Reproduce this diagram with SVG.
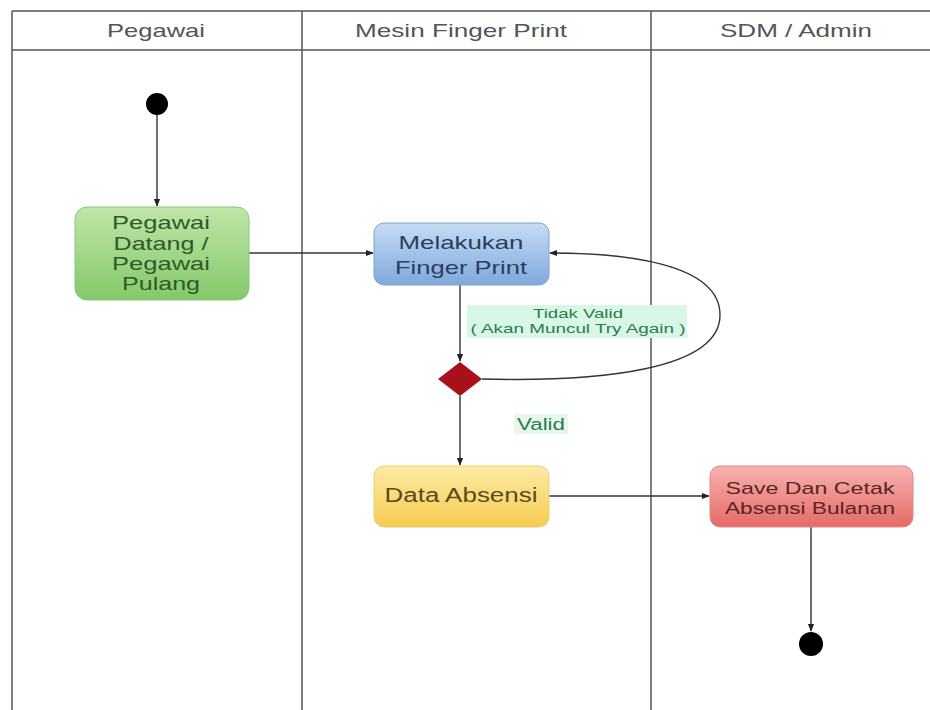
<svg xmlns="http://www.w3.org/2000/svg" width="930" height="710" viewBox="0 0 930 710">
<style>
.lane{fill:none;stroke:#555;stroke-width:1.5}
.hdr{font-family:"Liberation Sans",Arial,sans-serif;font-size:19px;fill:#555;text-anchor:middle}
.t{font-family:"Liberation Sans",Arial,sans-serif;font-size:19px;text-anchor:middle}
.s{font-family:"Liberation Sans",Arial,sans-serif;font-size:13px;text-anchor:middle;fill:#2d7a4d}
.c{fill:none;stroke:#333;stroke-width:1.4}
</style>
<defs>
<marker id="ah" viewBox="0 0 10 10" refX="9" refY="5" markerWidth="8" markerHeight="8" orient="auto" markerUnits="userSpaceOnUse">
<path d="M0,1 L10,5 L0,9 z" fill="#222"/>
</marker>
<linearGradient id="gG" x1="0" y1="0" x2="0" y2="1"><stop offset="0" stop-color="#bfe6a8"/><stop offset="1" stop-color="#84c86a"/></linearGradient>
<linearGradient id="gB" x1="0" y1="0" x2="0" y2="1"><stop offset="0" stop-color="#c6dcf5"/><stop offset="1" stop-color="#7fa8dc"/></linearGradient>
<linearGradient id="gY" x1="0" y1="0" x2="0" y2="1"><stop offset="0" stop-color="#fdeaa6"/><stop offset="1" stop-color="#f6cc4f"/></linearGradient>
<linearGradient id="gR" x1="0" y1="0" x2="0" y2="1"><stop offset="0" stop-color="#f6b3b0"/><stop offset="1" stop-color="#e56a66"/></linearGradient>
</defs>
<rect width="930" height="710" fill="#fff"/>
<g id="lanes">
<line class="lane" x1="12" y1="11" x2="930" y2="11"/>
<line class="lane" x1="12" y1="50" x2="930" y2="50"/>
<line class="lane" x1="12" y1="11" x2="12" y2="710"/>
<line class="lane" x1="302" y1="11" x2="302" y2="710"/>
<line class="lane" x1="651" y1="11" x2="651" y2="710"/>
<text class="hdr" x="156" y="37" textLength="98" lengthAdjust="spacingAndGlyphs">Pegawai</text>
<text class="hdr" x="461" y="37" textLength="212" lengthAdjust="spacingAndGlyphs">Mesin Finger Print</text>
<text class="hdr" x="796" y="37" textLength="152" lengthAdjust="spacingAndGlyphs">SDM / Admin</text>
</g>
<g id="connectors">
<line class="c" x1="157" y1="115" x2="157" y2="206" marker-end="url(#ah)"/>
<line class="c" x1="249" y1="253" x2="373" y2="253" marker-end="url(#ah)"/>
<line class="c" x1="460" y1="285" x2="460" y2="361" marker-end="url(#ah)"/>
<path class="c" d="M482,379 C600,382 720,370 720,315 C720,262 620,253 550,253" marker-end="url(#ah)"/>
<line class="c" x1="460" y1="396" x2="460" y2="465" marker-end="url(#ah)"/>
<line class="c" x1="549" y1="496" x2="709" y2="496" marker-end="url(#ah)"/>
<line class="c" x1="811" y1="527" x2="811" y2="631" marker-end="url(#ah)"/>
<rect x="467" y="305" width="220" height="33" fill="#d8f7e6"/>
<text class="s" x="578" y="318" textLength="90" lengthAdjust="spacingAndGlyphs">Tidak Valid</text>
<text class="s" x="578" y="333" textLength="215" lengthAdjust="spacingAndGlyphs">( Akan Muncul Try Again )</text>
<rect x="514" y="414" width="54" height="20" fill="#e6f8ee"/>
<text class="s" x="541" y="430" style="font-size:16px" textLength="48" lengthAdjust="spacingAndGlyphs">Valid</text>
</g>
<g id="start"><circle cx="157" cy="104" r="11" fill="#000"/></g>
<g id="pegawai-datang">
<rect x="75" y="207" width="174" height="93" rx="12" fill="url(#gG)" stroke="#8cc67a"/>
<text class="t" x="161" y="229" fill="#2f5a2a" textLength="98" lengthAdjust="spacingAndGlyphs">Pegawai</text>
<text class="t" x="161" y="250" fill="#2f5a2a" textLength="95" lengthAdjust="spacingAndGlyphs">Datang /</text>
<text class="t" x="161" y="270" fill="#2f5a2a" textLength="98" lengthAdjust="spacingAndGlyphs">Pegawai</text>
<text class="t" x="161" y="290" fill="#2f5a2a" textLength="78" lengthAdjust="spacingAndGlyphs">Pulang</text>
</g>
<g id="finger-print">
<rect x="374" y="223" width="175" height="62" rx="10" fill="url(#gB)" stroke="#7ea3d2"/>
<text class="t" x="461" y="249" fill="#2a3f5e" textLength="125" lengthAdjust="spacingAndGlyphs">Melakukan</text>
<text class="t" x="461" y="274" fill="#2a3f5e" textLength="132" lengthAdjust="spacingAndGlyphs">Finger Print</text>
</g>
<g id="decision"><polygon points="460,362 482,379 460,396 438,379" fill="#a8101a"/></g>
<g id="data-absensi">
<rect x="374" y="466" width="175" height="61" rx="10" fill="url(#gY)" stroke="#e9cf7a"/>
<text class="t" x="461" y="502" fill="#5a4a1e" style="font-size:20px" textLength="153" lengthAdjust="spacingAndGlyphs">Data Absensi</text>
</g>
<g id="save-cetak">
<rect x="710" y="466" width="203" height="61" rx="10" fill="url(#gR)" stroke="#d98a88"/>
<text class="t" x="810" y="494" fill="#5c2424" style="font-size:17px" textLength="169" lengthAdjust="spacingAndGlyphs">Save Dan Cetak</text>
<text class="t" x="810" y="514" fill="#5c2424" style="font-size:17px" textLength="170" lengthAdjust="spacingAndGlyphs">Absensi Bulanan</text>
</g>
<g id="end"><circle cx="811" cy="644" r="12" fill="#000"/></g>
</svg>
